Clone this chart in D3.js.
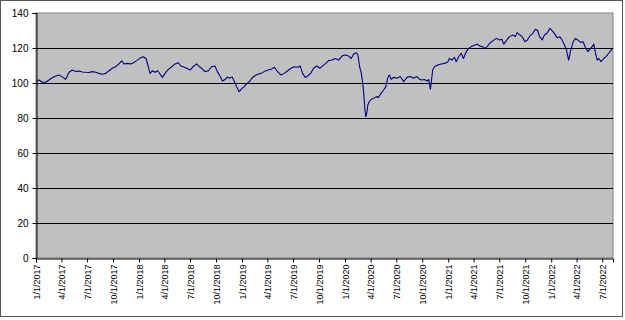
<!DOCTYPE html>
<html>
<head>
<meta charset="utf-8">
<script src="https://cdn.jsdelivr.net/npm/d3@7"></script>
<style>
  html, body { margin: 0; padding: 0; background: #fff; }
  svg { display: block; }
</style>
</head>
<body>
<svg id="chart" width="625" height="320"></svg>
<script>
// ---- Data ----
const dates = [
  "2017-01-02","2017-01-12","2017-01-23","2017-02-04","2017-02-16","2017-02-28","2017-03-12","2017-03-23","2017-04-04","2017-04-16",
  "2017-04-28","2017-05-10","2017-05-22","2017-06-02","2017-06-14","2017-06-26","2017-07-08","2017-07-20","2017-07-31","2017-08-12",
  "2017-08-24","2017-09-05","2017-09-17","2017-09-28","2017-10-10","2017-10-22","2017-11-01","2017-11-09","2017-11-21","2017-12-02",
  "2017-12-12","2017-12-24","2018-01-04","2018-01-16","2018-01-26","2018-02-03","2018-02-09","2018-02-18","2018-02-27","2018-03-08",
  "2018-03-16","2018-03-25","2018-04-03","2018-04-15","2018-04-27","2018-05-09","2018-05-21","2018-05-29","2018-06-07","2018-06-19",
  "2018-07-01","2018-07-12","2018-07-24","2018-08-03","2018-08-11","2018-08-23","2018-09-04","2018-09-15","2018-09-27","2018-10-06",
  "2018-10-15","2018-10-24","2018-11-02","2018-11-11","2018-11-17","2018-11-27","2018-12-05","2018-12-13","2018-12-22","2019-01-01",
  "2019-01-09","2019-01-19","2019-01-27","2019-02-05","2019-02-14","2019-02-26","2019-03-09","2019-03-21","2019-04-02","2019-04-14",
  "2019-04-26","2019-05-07","2019-05-19","2019-05-31","2019-06-12","2019-06-24","2019-07-05","2019-07-17","2019-07-26","2019-08-04",
  "2019-08-13","2019-08-22","2019-09-02","2019-09-12","2019-09-23","2019-10-04","2019-10-16","2019-10-23","2019-11-04","2019-11-16",
  "2019-11-28","2019-12-10","2019-12-21","2020-01-02","2020-01-14","2020-01-23","2020-02-01","2020-02-10","2020-02-16","2020-02-22",
  "2020-02-28","2020-03-04","2020-03-08","2020-03-12","2020-03-15","2020-03-19","2020-03-22","2020-03-27","2020-04-03","2020-04-11",
  "2020-04-21","2020-04-29","2020-05-08","2020-05-17","2020-05-25","2020-05-31","2020-06-06","2020-06-13","2020-06-21","2020-07-03",
  "2020-07-15","2020-07-27","2020-08-08","2020-08-20","2020-08-31","2020-09-12","2020-09-22","2020-09-28","2020-10-09","2020-10-18",
  "2020-10-24","2020-10-30","2020-11-07","2020-11-13","2020-11-25","2020-12-07","2020-12-19","2020-12-31","2021-01-05","2021-01-14",
  "2021-01-23","2021-01-29","2021-02-07","2021-02-16","2021-02-24","2021-03-06","2021-03-14","2021-03-24","2021-04-05","2021-04-14",
  "2021-04-22","2021-05-02","2021-05-10","2021-05-19","2021-05-28","2021-06-09","2021-06-20","2021-07-02","2021-07-10","2021-07-17",
  "2021-07-26","2021-08-06","2021-08-18","2021-08-27","2021-09-02","2021-09-12","2021-09-20","2021-09-30","2021-10-08","2021-10-17",
  "2021-10-28","2021-11-06","2021-11-14","2021-11-21","2021-11-30","2021-12-08","2021-12-17","2021-12-27","2022-01-04","2022-01-13",
  "2022-01-22","2022-01-31","2022-02-09","2022-02-17","2022-02-24","2022-03-01","2022-03-04","2022-03-10","2022-03-20","2022-03-28",
  "2022-04-05","2022-04-15","2022-04-24","2022-05-02","2022-05-11","2022-05-18","2022-05-26","2022-06-01","2022-06-07","2022-06-13",
  "2022-06-19","2022-06-27","2022-07-06","2022-07-15","2022-07-24","2022-08-02","2022-08-08"
];
const values = [
  101.1,101.7,100.4,100.4,101.7,103.0,104.0,104.6,103.5,102.1,
  106.1,107.4,106.5,106.9,106.3,106.1,106.0,106.5,106.1,105.5,
  105.0,105.5,107.0,108.4,109.3,110.9,112.6,110.9,111.2,110.9,
  111.6,112.8,114.1,115.0,114.0,109.3,105.5,107.0,106.1,107.0,
  105.3,103.2,105.5,107.8,109.3,110.9,111.6,109.7,109.3,108.4,
  107.4,109.3,110.9,109.3,108.4,106.5,107.0,109.3,109.7,106.5,
  104.0,101.1,102.0,103.5,102.7,103.5,100.8,97.9,95.0,96.9,
  97.9,99.8,100.8,102.7,104.0,105.0,105.5,106.5,107.4,107.8,
  109.0,106.5,104.6,105.5,107.0,108.4,109.3,109.0,109.7,105.5,
  103.2,104.0,105.7,108.4,109.7,108.4,110.1,110.9,112.8,113.1,
  114.0,113.1,115.4,116.0,115.4,114.0,116.6,117.3,116.0,109.3,
  105.5,99.8,93.1,84.6,80.8,83.4,87.4,89.3,90.7,91.2,
  92.2,91.8,94.1,96.0,97.9,102.7,104.6,102.1,103.2,102.7,
  103.7,100.8,103.2,103.7,102.7,103.7,102.1,101.7,102.0,101.1,
  102.0,96.4,107.4,109.3,110.3,110.9,111.2,112.2,114.0,113.1,
  114.7,112.2,115.0,117.0,114.0,117.9,119.8,120.8,121.7,122.2,
  121.1,120.8,119.8,120.8,122.7,124.2,125.5,124.6,125.0,122.2,
  124.2,126.5,127.4,126.5,128.8,127.4,126.5,123.6,124.4,126.9,
  128.4,130.7,130.0,126.5,124.6,127.4,128.4,131.2,130.0,128.2,
  125.8,126.5,124.4,121.7,118.9,115.0,113.1,117.9,123.6,125.5,
  124.6,123.2,123.6,120.4,118.0,119.2,120.8,122.2,117.0,113.1,
  114.0,112.2,114.0,115.2,117.0,118.9,119.8
];
const yTicks = [0, 20, 40, 60, 80, 100, 120, 140];
const xTickDates = [
  "2017-01-01","2017-04-01","2017-07-01","2017-10-01",
  "2018-01-01","2018-04-01","2018-07-01","2018-10-01",
  "2019-01-01","2019-04-01","2019-07-01","2019-10-01",
  "2020-01-01","2020-04-01","2020-07-01","2020-10-01",
  "2021-01-01","2021-04-01","2021-07-01","2021-10-01",
  "2022-01-01","2022-04-01","2022-07-01"
];
const domainStart = "2017-01-01";
const domainEnd = "2022-08-08";

// ---- Chart ----
(function () {
  const parse = d3.utcParse("%Y-%m-%d");
  const fmt = d => `${d.getUTCMonth() + 1}/${d.getUTCDate()}/${d.getUTCFullYear()}`;
  const data = dates.map((d, i) => ({ date: parse(d), value: values[i] }));

  const svg = d3.select("#chart");
  const pLeft = 36, pRight = 613, pTop = 13, pBottom = 258;

  const x = d3.scaleUtc().domain([parse(domainStart), parse(domainEnd)]).range([pLeft, pRight]);
  const y = d3.scaleLinear().domain([0, 140]).range([pBottom, pTop]);

  // outer border
  svg.append("rect").attr("x", 0.5).attr("y", 0.5).attr("width", 622).attr("height", 316)
    .attr("fill", "#fff").attr("stroke", "#555").attr("stroke-width", 1);

  // plot area
  svg.append("rect").attr("x", pLeft).attr("y", pTop).attr("width", pRight - pLeft).attr("height", pBottom - pTop)
    .attr("fill", "#C0C0C0").attr("stroke", "#808080").attr("stroke-width", 1);

  // gridlines
  svg.append("g").selectAll("line").data(yTicks.filter(t => t > 0 && t < 140)).join("line")
    .attr("x1", pLeft).attr("x2", pRight)
    .attr("y1", d => Math.round(y(d)) + 0.5).attr("y2", d => Math.round(y(d)) + 0.5)
    .attr("stroke", "#000").attr("stroke-width", 1);

  // y axis
  const yAxis = svg.append("g").attr("transform", `translate(${pLeft + 0.5},0)`)
    .call(d3.axisLeft(y).tickValues(yTicks).tickSize(4).tickPadding(4).tickFormat(d3.format("d")));
  yAxis.select(".domain").attr("stroke", "#000");
  yAxis.selectAll(".tick line").attr("stroke", "#000");
  yAxis.selectAll("text").attr("font-family", "Liberation Sans, Arial, sans-serif").attr("font-size", 10).attr("fill", "#000");

  // x axis
  const xAxis = svg.append("g").attr("transform", `translate(0,${pBottom + 0.5})`)
    .call(d3.axisBottom(x).tickValues(xTickDates.map(parse)).tickSize(4).tickFormat(fmt));
  xAxis.select(".domain").attr("stroke", "#000");
  xAxis.selectAll(".tick line").attr("stroke", "#000");
  xAxis.selectAll("text")
    .attr("font-family", "Liberation Sans, Arial, sans-serif").attr("font-size", 9).attr("fill", "#000")
    .attr("text-anchor", "end")
    .attr("transform", "translate(0,6) rotate(-90)")
    .attr("x", 0).attr("y", 0).attr("dy", "0.35em");

  // line
  svg.append("path").datum(data)
    .attr("fill", "none").attr("stroke", "#000080").attr("stroke-width", 1.1)
    .attr("stroke-linejoin", "round")
    .attr("d", d3.line().x(d => x(d.date)).y(d => y(d.value)));
})();
</script>
</body>
</html>
